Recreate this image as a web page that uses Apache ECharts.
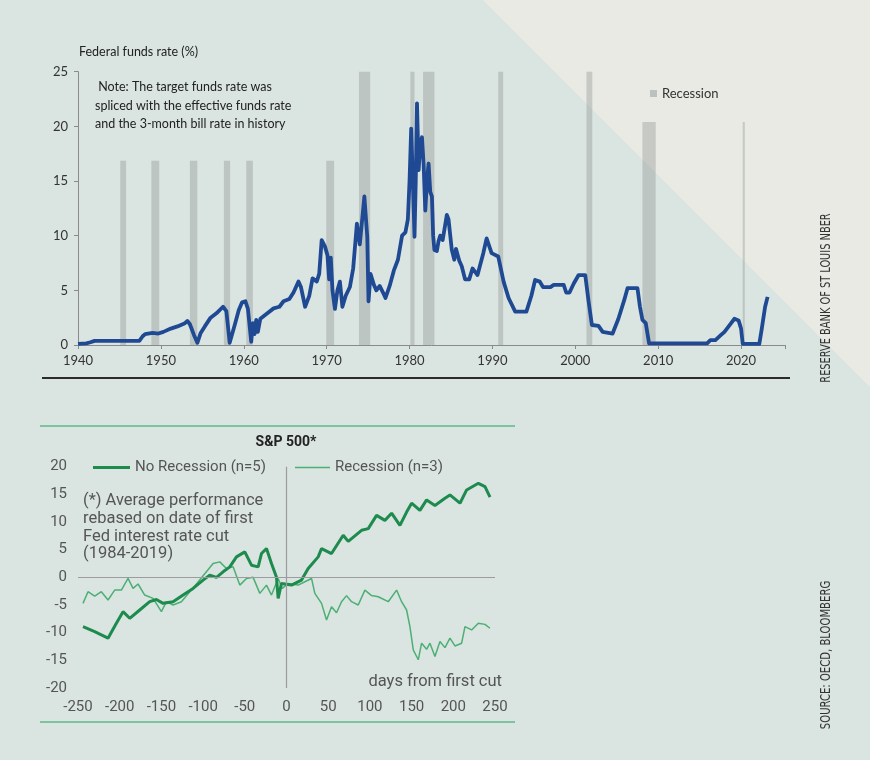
<!DOCTYPE html>
<html>
<head>
<meta charset="utf-8">
<script src="https://cdn.jsdelivr.net/npm/echarts@6/dist/echarts.min.js"></script>
<style>
  html, body { margin: 0; padding: 0; background: #dce5e2; }
  #chart { width: 870px; height: 760px; }
</style>
</head>
<body>
<div id="chart"></div>
<script>
// Federal funds rate (%)
const fedYears = [
  1940.0, 1941.0, 1941.5, 1942.0, 1947.4, 1947.8, 1948.1, 1949.0, 1949.7, 1950.3,
  1951.2, 1952.0, 1952.9, 1953.2, 1953.5, 1954.0, 1954.4, 1954.8, 1955.3, 1956.0,
  1956.7, 1957.5, 1957.9, 1958.3, 1958.9, 1959.4, 1959.8, 1960.2, 1960.5, 1960.9,
  1961.1, 1961.3, 1961.5, 1961.7, 1962.0, 1962.5, 1963.0, 1963.6, 1964.3, 1964.8,
  1965.5, 1966.0, 1966.6, 1966.9, 1967.4, 1967.9, 1968.3, 1968.8, 1969.1, 1969.4,
  1969.8, 1970.1, 1970.3, 1970.5, 1970.7, 1971.0, 1971.3, 1971.6, 1971.9, 1972.3,
  1972.8, 1973.2, 1973.65, 1974.0, 1974.55, 1974.9, 1975.05, 1975.3, 1975.7, 1976.0,
  1976.4, 1976.8, 1977.1, 1977.6, 1978.1, 1978.6, 1979.1, 1979.5, 1979.8, 1980.0,
  1980.2, 1980.4, 1980.6, 1980.75, 1980.9, 1981.1, 1981.3, 1981.5, 1981.7, 1981.9,
  1982.1, 1982.3, 1982.5, 1982.7, 1982.85, 1983.0, 1983.3, 1983.5, 1983.7, 1984.0,
  1984.5, 1984.7, 1985.1, 1985.4, 1985.6, 1986.0, 1986.3, 1986.7, 1987.2, 1987.6,
  1988.2, 1988.9, 1989.3, 1989.9, 1990.7, 1991.35, 1991.95, 1992.75, 1994.1, 1994.7,
  1995.15, 1995.7, 1996.1, 1997.0, 1997.4, 1998.6, 1998.9, 1999.3, 1999.8, 2000.4,
  2001.2, 2001.6, 2002.0, 2002.8, 2003.3, 2004.5, 2005.2, 2005.9, 2006.3, 2007.5,
  2007.8, 2008.1, 2008.5, 2008.9, 2015.9, 2016.3, 2016.9, 2017.55, 2018.0, 2018.8,
  2019.2, 2019.7, 2020.0, 2020.2, 2022.2, 2022.5, 2022.9, 2023.2
];
const fedRates = [
  0.1, 0.15, 0.25, 0.38, 0.38, 0.8, 1.0, 1.1, 1.05, 1.2,
  1.5, 1.7, 2.0, 2.2, 1.9, 0.9, 0.2, 1.1, 1.7, 2.5,
  2.9, 3.5, 3.1, 0.2, 1.8, 3.2, 3.9, 4.0, 3.3, 0.3,
  2.0, 1.0, 2.3, 1.2, 2.4, 2.7, 3.0, 3.35, 3.5, 4.0,
  4.2, 4.8, 5.8, 5.3, 3.5, 4.5, 6.1, 5.8, 6.5, 9.6,
  9.0, 8.2, 6.0, 8.0, 5.0, 3.3, 5.0, 5.8, 3.5, 4.5,
  5.3, 7.0, 11.1, 9.2, 13.6, 9.9, 4.0, 6.5, 5.5, 5.0,
  5.4, 4.8, 4.3, 5.4, 6.8, 7.8, 10.0, 10.3, 11.5, 15.0,
  19.8, 15.0, 9.9, 15.0, 22.1, 16.0, 18.5, 19.0, 16.5, 12.3,
  15.0, 16.6, 14.0, 13.6, 10.0, 8.7, 8.6, 9.5, 10.0, 9.6,
  11.9, 11.5, 8.7, 7.8, 8.8, 7.7, 7.2, 6.0, 6.0, 7.0,
  6.4, 8.4, 9.75, 8.4, 8.1, 5.8, 4.3, 3.05, 3.05, 4.5,
  5.95, 5.8, 5.3, 5.3, 5.5, 5.5, 4.8, 4.8, 5.6, 6.4,
  6.4, 4.0, 1.83, 1.75, 1.2, 1.05, 2.4, 4.1, 5.2, 5.2,
  3.5, 2.3, 2.0, 0.15, 0.15, 0.45, 0.45, 0.9, 1.2, 2.0,
  2.4, 2.25, 1.5, 0.1, 0.1, 1.5, 3.5, 4.4
];

// recession shading: start, end, bar top
const recStart = [1945.1, 1948.85, 1953.5, 1957.6, 1960.3, 1969.95, 1973.9, 1980.1, 1981.63, 1990.7, 2001.35, 2008.1, 2020.2];
const recEnd   = [1945.8, 1949.8, 1954.4, 1958.35, 1961.1, 1970.9, 1975.25, 1980.6, 1983.0, 1991.3, 2002.05, 2009.7, 2020.45];
const recTop   = [16.85, 16.85, 16.85, 16.85, 16.85, 16.85, 25, 25, 25, 25, 25, 20.4, 20.4];

// S&P 500, days from first cut
const noRecDays = [
  -244, -230, -214, -204, -196, -188, -176, -164, -156, -148,
  -136, -124, -112, -100, -92, -84, -76, -68, -60, -50,
  -42, -34, -30, -24, -18, -12, -10, -6, 6, 18,
  26, 38, 42, 54, 68, 74, 90, 98, 108, 118,
  126, 136, 144, 150, 160, 168, 178, 190, 196, 208,
  216, 230, 238, 244
];
const noRecVals = [
  -8.9, -9.8, -11.0, -8.3, -6.2, -7.4, -5.9, -4.4, -4.0, -4.7,
  -4.4, -3.2, -2.0, -0.5, 0.4, 0.0, 1.0, 1.9, 3.7, 4.6,
  2.2, 1.9, 4.3, 5.2, 2.5, 0.0, -3.8, -1.1, -1.4, -0.5,
  1.6, 3.7, 5.2, 4.3, 7.6, 6.5, 8.5, 8.8, 11.2, 10.3,
  11.6, 9.4, 11.8, 13.4, 12.1, 14.0, 13.0, 14.3, 14.9, 13.4,
  15.8, 17.0, 16.4, 14.5
];
const recDays = [
  -244, -238, -230, -222, -214, -206, -198, -190, -184, -178,
  -170, -160, -150, -144, -136, -126, -116, -108, -100, -88,
  -80, -72, -64, -56, -48, -40, -32, -24, -18, -10,
  -5, 2, 14, 22, 30, 34, 42, 48, 54, 60,
  66, 72, 78, 86, 94, 102, 110, 122, 132, 138,
  144, 148, 152, 158, 162, 168, 172, 178, 184, 190,
  196, 202, 210, 214, 222, 230, 238, 244
];
const recVals = [
  -4.7, -2.6, -3.4, -2.6, -4.1, -2.3, -2.3, -0.2, -2.0, -1.2,
  -3.2, -3.8, -6.2, -4.4, -5.0, -4.4, -2.6, -1.2, 0.3, 2.5,
  2.8, 1.6, 1.9, -1.4, -0.2, 0.0, -2.9, -1.4, -3.2, -0.2,
  -2.0, -1.1, -1.4, -0.8, -0.2, -2.9, -4.7, -7.7, -5.3, -6.4,
  -4.4, -3.3, -4.4, -5.0, -2.3, -3.3, -3.5, -4.4, -2.3, -4.4,
  -5.9, -8.9, -13.1, -14.9, -11.9, -13.0, -11.9, -14.3, -11.6, -12.7,
  -11.0, -12.4, -11.9, -8.9, -9.5, -8.3, -8.5, -9.2
];

const noteLines = [
  ' Note: The target funds rate was',
  'spliced with the effective funds rate',
  'and the 3-month bill rate in history'
];
const footLines = [
  '(*) Average performance',
  'rebased on date of first',
  'Fed interest rate cut',
  '(1984-2019)'
];

const topFont = 'Lato, "Open Sans", sans-serif';
const botFont = 'Roboto, "Noto Sans", sans-serif';
const sideFont = '"Liberation Sans Narrow", "DejaVu Sans Condensed", sans-serif';

const zip = (a, b) => a.map((v, i) => [v, b[i]]);

const chart = echarts.init(document.getElementById('chart'));
chart.setOption({
  backgroundColor: '#dae4e1',
  animation: false,
  grid: [
    { left: 78, right: 85, top: 71.7, bottom: 415 },
    { left: 78, right: 375, top: 466.7, bottom: 72 }
  ],
  legend: [
    {
      data: ['Recession'], left: 650, top: 87, padding: 0, icon: 'rect', itemWidth: 7, itemHeight: 7,
      textStyle: { color: '#333', fontSize: 13, fontFamily: topFont }
    },
    {
      data: ['No Recession (n=5)'], left: 93, top: 460, padding: 0, icon: 'rect', itemWidth: 37, itemHeight: 3,
      textStyle: { color: '#555', fontSize: 15, fontFamily: botFont }
    },
    {
      data: ['Recession (n=3)'], left: 295, top: 460, padding: 0, icon: 'rect', itemWidth: 35, itemHeight: 1.5,
      textStyle: { color: '#555', fontSize: 15, fontFamily: botFont }
    }
  ],
  xAxis: [
    {
      gridIndex: 0, type: 'value', min: 1940, max: 2025.3, interval: 10,
      axisLine: { lineStyle: { color: '#8a8a8a' } },
      axisTick: { length: 4, lineStyle: { color: '#8a8a8a' } },
      axisLabel: {
        color: '#333', fontSize: 13, fontFamily: topFont, margin: 9,
        formatter: v => (v % 10 === 0 ? String(v) : '')
      },
      splitLine: { show: false }
    },
    {
      gridIndex: 1, type: 'value', min: -250, max: 250, interval: 50,
      axisLine: { show: false }, axisTick: { show: false },
      axisLabel: { color: '#555', fontSize: 15, fontFamily: botFont, margin: 12 },
      splitLine: { show: false }
    }
  ],
  yAxis: [
    {
      gridIndex: 0, type: 'value', min: 0, max: 25, interval: 5,
      axisLine: { show: true, lineStyle: { color: '#8a8a8a' } },
      axisTick: { show: true, length: 4, lineStyle: { color: '#8a8a8a' } },
      axisLabel: { color: '#333', fontSize: 13, fontFamily: topFont, margin: 10 },
      splitLine: { show: false }
    },
    {
      gridIndex: 1, type: 'value', min: -20, max: 20, interval: 5,
      axisLine: { show: false }, axisTick: { show: false },
      axisLabel: { color: '#555', fontSize: 15, fontFamily: botFont, margin: 11 },
      splitLine: { show: false }
    }
  ],
  series: [
    {
      name: 'Recession', type: 'line', xAxisIndex: 0, yAxisIndex: 0, data: [],
      color: '#bcc1be', z: 1,
      markArea: {
        silent: true,
        itemStyle: { color: 'rgba(150,156,152,0.42)' },
        data: recStart.map((s, i) => [{ coord: [s, 0] }, { coord: [recEnd[i], recTop[i]] }])
      }
    },
    {
      name: 'Federal funds rate', type: 'line', xAxisIndex: 0, yAxisIndex: 0,
      data: zip(fedYears, fedRates), showSymbol: false, z: 3,
      lineStyle: { color: '#1f4a93', width: 3.8, join: 'round' }, color: '#1f4a93'
    },
    {
      name: 'zero', type: 'line', xAxisIndex: 1, yAxisIndex: 1, data: [], z: 1,
      markLine: {
        silent: true, symbol: 'none', label: { show: false },
        lineStyle: { color: '#9c9c9c', width: 1.2, type: 'solid' },
        data: [{ xAxis: 0 }, { yAxis: 0 }]
      }
    },
    {
      name: 'Recession (n=3)', type: 'line', xAxisIndex: 1, yAxisIndex: 1,
      data: zip(recDays, recVals), showSymbol: false, z: 3,
      color: '#4caf74', lineStyle: { color: '#4caf74', width: 1.5 }
    },
    {
      name: 'No Recession (n=5)', type: 'line', xAxisIndex: 1, yAxisIndex: 1,
      data: zip(noRecDays, noRecVals), showSymbol: false, z: 4,
      color: '#1d8b4e', lineStyle: { color: '#1d8b4e', width: 3 }
    }
  ],
  graphic: [
    {
      type: 'polygon', z: -10, silent: true,
      shape: { points: [[483, 0], [870, 0], [870, 387]] },
      style: { fill: '#e8eae3' }
    },
    {
      type: 'text', left: 79, top: 45,
      style: { text: 'Federal funds rate (%)', fill: '#222', font: '12.5px ' + topFont }
    },
    {
      type: 'text', left: 95, top: 78,
      style: { text: noteLines.join('\n'), fill: '#222', font: '12.5px ' + topFont, lineHeight: 18.5 }
    },
    {
      type: 'line', shape: { x1: 42, y1: 378, x2: 790, y2: 378 },
      style: { stroke: '#2b2b2b', lineWidth: 2 }
    },
    {
      type: 'line', shape: { x1: 40, y1: 426, x2: 515, y2: 426 },
      style: { stroke: '#5fb98a', lineWidth: 1.5 }
    },
    {
      type: 'line', shape: { x1: 40, y1: 722, x2: 515, y2: 722 },
      style: { stroke: '#5fb98a', lineWidth: 1.5 }
    },
    {
      type: 'text', x: 286, y: 442,
      style: { text: 'S&P 500*', fill: '#222', font: 'bold 14px ' + botFont, align: 'center', verticalAlign: 'middle' }
    },
    {
      type: 'text', left: 83, top: 492,
      style: { text: footLines.join('\n'), fill: '#555', font: '16.5px ' + botFont, lineHeight: 17.8 }
    },
    {
      type: 'text', x: 502, y: 682,
      style: { text: 'days from first cut', fill: '#555', font: '16.5px ' + botFont, align: 'right', verticalAlign: 'middle' }
    },
    {
      type: 'text', x: 826, y: 298, rotation: Math.PI / 2, scaleX: 0.78,
      style: { text: 'RESERVE BANK OF ST LOUIS NBER', fill: '#333', font: '14px ' + sideFont, align: 'center', verticalAlign: 'middle' }
    },
    {
      type: 'text', x: 826, y: 655, rotation: Math.PI / 2, scaleX: 0.8,
      style: { text: 'SOURCE: OECD, BLOOMBERG', fill: '#333', font: '14px ' + sideFont, align: 'center', verticalAlign: 'middle' }
    }
  ]
});
</script>
</body>
</html>
